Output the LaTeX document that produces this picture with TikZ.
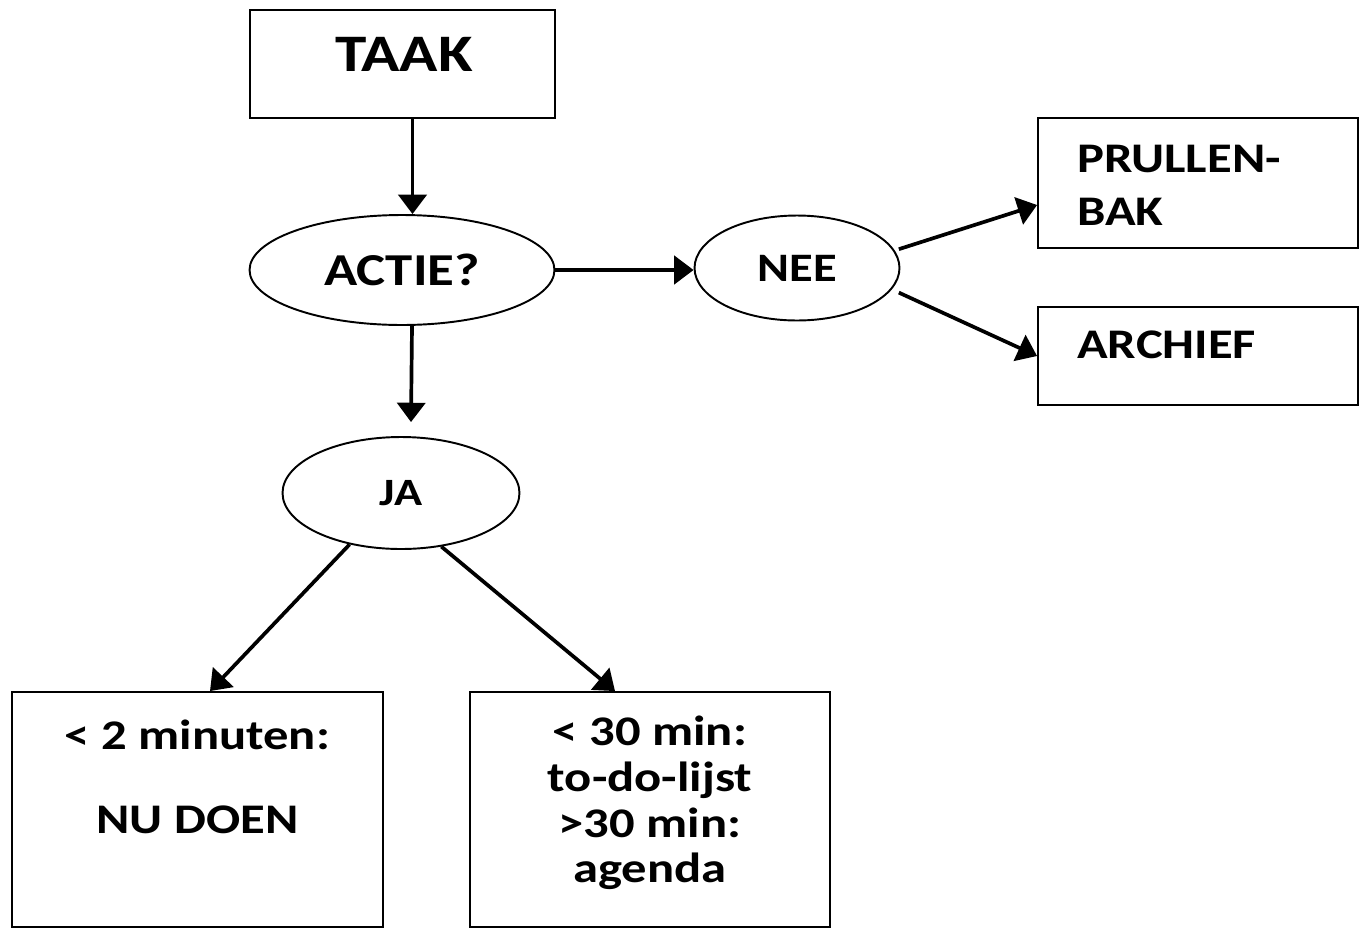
\documentclass[tikz,border=0pt]{standalone}
\usepackage{fontspec}
\setmainfont[FakeStretch=1.2]{Carlito}
\usetikzlibrary{shapes.geometric,arrows.meta}

\begin{document}
\begin{tikzpicture}[x=0.02cm,y=-0.02cm,>={Triangle[length=11pt,width=16pt]},
    box/.style={draw,line width=1.1pt,inner sep=0pt},
    oval/.style={ellipse,draw,line width=1.1pt,inner sep=0pt},
    txt/.style={font=\bfseries\fontsize{24}{26}\selectfont,align=center},
    arr/.style={->,line width=2.1pt}]
    \useasboundingbox (0,0) rectangle (1364,930);

    \node[box,minimum width=6.1cm,minimum height=2.16cm] (taak) at (402.5,64) {};
    \node[font=\bfseries\fontsize{30}{32}\selectfont] (taaktxt) at (404,54) {TAAK};
    \node[oval,minimum width=6.1cm,minimum height=2.2cm,font=\bfseries\fontsize{26}{28}\selectfont] (actie) at (402,270) {ACTIE?};
    \node[oval,minimum width=4.1cm,minimum height=2.1cm,font=\bfseries\fontsize{23}{25}\selectfont] (nee) at (797,268) {NEE};
    \node[oval,minimum width=4.74cm,minimum height=2.24cm,font=\bfseries\fontsize{22}{24}\selectfont] (ja) at (401,493) {JA};

    \node[box,minimum width=6.4cm,minimum height=2.6cm] (prullen) at (1198,183) {};
    \node[txt,align=left,anchor=west,font=\bfseries\fontsize{24}{30}\selectfont] (prullentxt) at (1071,185) {PRULLEN-\\BAK};
    \node[box,minimum width=6.4cm,minimum height=1.96cm] (archief) at (1198,356) {};
    \node[txt,anchor=west] (archieftxt) at (1071,345) {ARCHIEF};

    \node[box,minimum width=7.42cm,minimum height=4.7cm] (nudoen) at (197.5,809.5) {};
    \node[txt] (nudoen1) at (197.5,735) {< 2 minuten:};
    \node[txt] (nudoen2) at (197.5,820) {NU DOEN};
    \node[box,minimum width=7.2cm,minimum height=4.7cm] (agenda) at (650,809.5) {};
    \node[txt] (agendatxt) at (650,803) {< 30 min:\\to-do-lijst\\>30 min:\\agenda};

    \draw[arr] ([xshift=0.2cm]taak.south) -- ([xshift=0.2cm]taak.south |- actie.north);
    \draw[arr] (actie.east) -- (nee.west |- actie.east);
    \draw[arr] ([xshift=0.2cm]actie.south) -- ([xshift=0.2cm,yshift=0.28cm]ja.north);
    \draw[arr] ([xshift=0.1cm]nee.11) -- ([yshift=-0.44cm]prullen.west);
    \draw[arr] ([xshift=0.2cm]nee.-15) -- (archief.west);
    \draw[arr] (ja.225) -- ([xshift=0.25cm]nudoen.north);
    \draw[arr] (ja.-53) -- ([xshift=-0.7cm]agenda.north);
\end{tikzpicture}
\end{document}
